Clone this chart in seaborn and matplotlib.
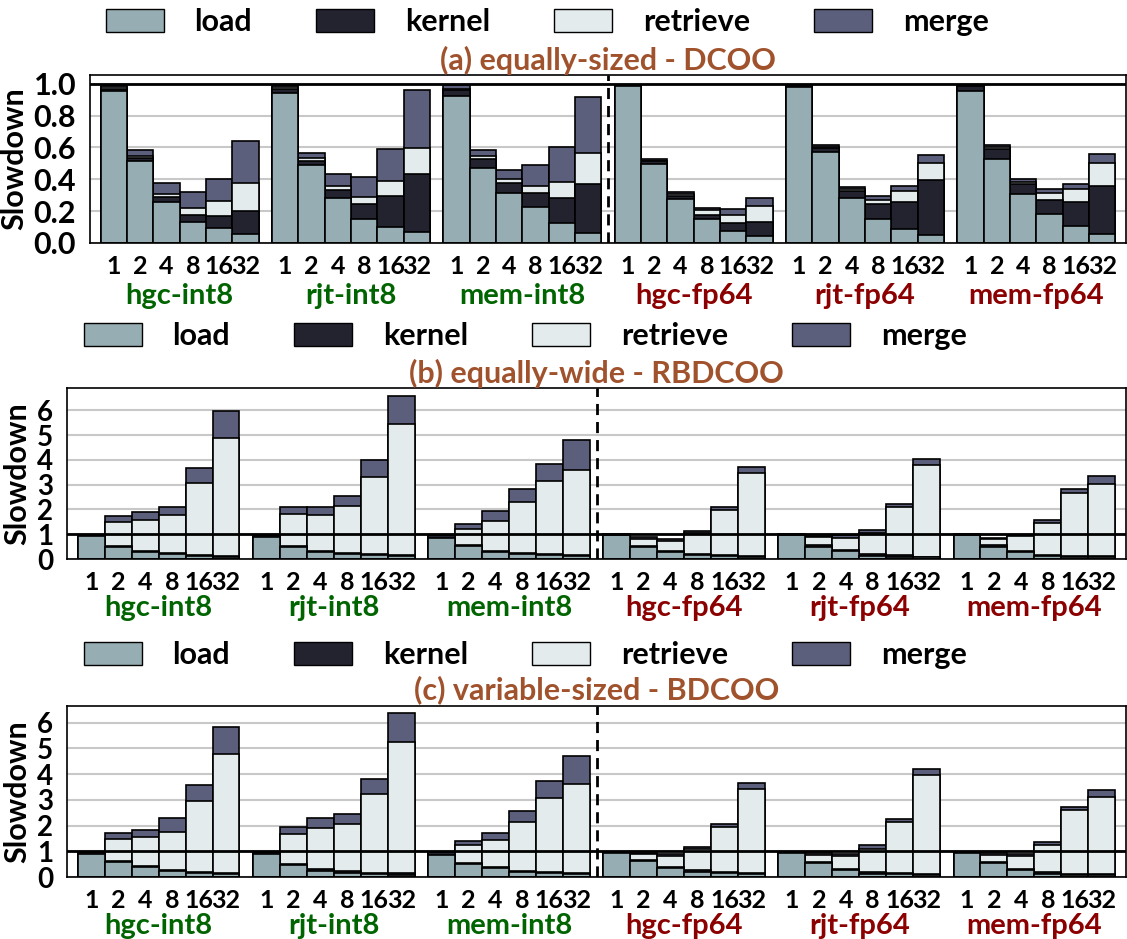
import matplotlib

matplotlib.use("Agg")
import matplotlib.pyplot as plt
import numpy as np
import seaborn as sns
from matplotlib.patches import Patch

# Data: one value per bar for each stage
GROUPS = ["hgc-int8", "rjt-int8", "mem-int8", "hgc-fp64", "rjt-fp64", "mem-fp64"]
GROUP_COLORS = ["#006400"] * 3 + ["#8b0000"] * 3
THREADS = ["1", "2", "4", "8", "16", "32"]
STAGES = ["load", "kernel", "retrieve", "merge"]
STAGE_COLORS = ["#95adb3", "#232330", "#e3ebec", "#5c5f7b"]

# (a) equally-sized - DCOO
a_load = [
    [.955, .514, .258, .134, .092, .057], [.943, .488, .281, .151, .099, .067],
    [.922, .472, .312, .224, .124, .065], [.985, .495, .275, .149, .073, .044],
    [.979, .574, .283, .149, .086, .050], [.956, .528, .308, .182, .105, .057],
]
a_kernel = [
    [.015, .018, .033, .044, .080, .146], [.025, .030, .052, .094, .194, .365],
    [.036, .056, .063, .088, .161, .306], [.005, .017, .021, .029, .055, .090],
    [.012, .021, .044, .094, .174, .344], [.030, .065, .061, .086, .155, .301],
]
a_retrieve = [
    [.008, .015, .019, .042, .092, .172], [.011, .014, .025, .042, .097, .163],
    [.011, .017, .025, .049, .099, .193], [.000, .006, .012, .030, .050, .099],
    [.000, .009, .011, .030, .065, .107], [.002, .011, .017, .044, .078, .145],
]
a_merge = [
    [.012, .038, .067, .101, .139, .264], [.011, .034, .076, .130, .201, .367],
    [.021, .036, .059, .130, .216, .352], [.003, .008, .013, .014, .036, .050],
    [.003, .010, .016, .020, .033, .050], [.002, .012, .017, .028, .033, .059],
]

# (b) equally-wide - RBDCOO
b_load = [
    [.91, .48, .28, .19, .12, .08], [.87, .47, .27, .20, .15, .11],
    [.865, .51, .28, .19, .16, .11], [.97, .48, .28, .15, .11, .07],
    [.97, .50, .32, .13, .09, .07], [.97, .50, .27, .12, .09, .07],
]
b_kernel = [
    [.06, .06, .04, .04, .05, .05], [.09, .05, .04, .04, .04, .04],
    [.085, .07, .06, .05, .04, .04], [.01, .06, .04, .05, .04, .04],
    [.01, .05, .06, .06, .06, .02], [.01, .05, .05, .05, .04, .04],
]
b_retrieve = [
    [.0, .94, 1.25, 1.54, 2.90, 4.74], [.0, 1.29, 1.48, 1.89, 3.11, 5.30],
    [.0, .65, 1.21, 2.08, 2.95, 3.43], [.0, .26, .42, .85, 1.82, 3.38],
    [.0, .32, .48, .87, 1.93, 3.70], [.0, .27, .59, 1.28, 2.53, 2.92],
]
b_merge = [
    [.01, .25, .31, .34, .59, 1.12], [.02, .28, .32, .43, .69, 1.13],
    [.02, .20, .40, .49, .69, 1.23], [.01, .09, .08, .10, .14, .21],
    [.01, .06, .09, .11, .12, .24], [.01, .04, .07, .12, .16, .30],
]

# (c) variable-sized - BDCOO
c_load = [
    [.89, .57, .38, .22, .14, .12], [.90, .46, .25, .17, .12, .09],
    [.87, .51, .34, .20, .14, .10], [.94, .63, .35, .21, .14, .10],
    [.95, .53, .26, .13, .10, .09], [.94, .56, .27, .13, .09, .08],
]
c_kernel = [
    [.075, .06, .05, .05, .06, .05], [.065, .05, .05, .05, .04, .05],
    [.095, .04, .05, .05, .04, .04], [.02, .03, .04, .05, .04, .04],
    [.01, .04, .04, .05, .04, .03], [.02, .04, .04, .05, .04, .02],
]
c_retrieve = [
    [.0, .84, 1.11, 1.48, 2.75, 4.61], [.0, 1.15, 1.59, 1.83, 3.05, 5.10],
    [.0, .69, 1.04, 1.88, 2.88, 3.47], [.0, .24, .43, .81, 1.76, 3.30],
    [.0, .30, .51, .92, 1.99, 3.83], [.0, .27, .52, 1.07, 2.46, 3.00],
]
c_merge = [
    [.01, .24, .30, .53, .62, 1.07], [.01, .27, .39, .40, .60, 1.12],
    [.01, .17, .30, .45, .68, 1.08], [.01, .05, .09, .10, .12, .21],
    [.01, .06, .10, .13, .14, .24], [.01, .07, .08, .13, .15, .29],
]

PANELS = [
    ("(a) equally-sized - DCOO", [a_load, a_kernel, a_retrieve, a_merge]),
    ("(b) equally-wide - RBDCOO", [b_load, b_kernel, b_retrieve, b_merge]),
    ("(c) variable-sized - BDCOO", [c_load, c_kernel, c_retrieve, c_merge]),
]

sns.set_theme(style="white")
plt.rcParams.update(
    {
        "font.family": ["Lato", "DejaVu Sans"],
        "font.weight": "bold",
        "text.color": "black",
        "axes.labelcolor": "black",
        "xtick.color": "black",
        "ytick.color": "black",
    }
)

W, H = 1127, 939
GAP = 0.5
XPOS = np.array([g * (len(THREADS) + GAP) + i for g in range(len(GROUPS)) for i in range(len(THREADS))])

# layout in pixels: (left, top, bottom, legend_x, legend_y, title_y, ymax, yticks, fmt, ytick_size, label_offset)
LAYOUT = [
    (90, 75, 243, 106, 22, 60, 1.055, np.arange(0, 1.01, 0.2), "{:.1f}", 22, -38),
    (67, 388, 559, 84, 336, 373, 6.9, np.arange(0, 7), "{:.0f}", 20, -35),
    (67, 706, 877, 84, 655, 690, 6.65, np.arange(0, 7), "{:.0f}", 20, -35),
]


def draw_panel(fig, title, stages, layout):
    left, top, bottom, leg_x, leg_y, title_y, ymax, yticks, fmt, ysize, lab_off = layout
    right = 1126
    ax = fig.add_axes([left / W, 1 - bottom / H, (right - left) / W, (bottom - top) / H])

    heights = [np.array(s).ravel() for s in stages]
    cum = np.cumsum(heights, axis=0)
    # draw totals first so each lower stage covers the part below its top
    for k in reversed(range(len(STAGES))):
        sns.barplot(
            x=XPOS, y=cum[k], native_scale=True, width=1, color=STAGE_COLORS[k],
            saturation=1, edgecolor="black", linewidth=1.2, errorbar=None, ax=ax, zorder=2,
        )

    ax.axhline(1, color="black", lw=2, zorder=4)
    mid = (2 * (len(THREADS) + GAP) + len(THREADS) - 1 + 3 * (len(THREADS) + GAP)) / 2
    ax.axvline(mid, color="black", lw=2, ls=(0, (4, 2.5)), zorder=4)

    ax.set_xlim(-0.9, XPOS[-1] + 0.9)
    ax.set_ylim(0, ymax)
    ax.set_yticks(yticks)
    ax.set_yticklabels([fmt.format(v) for v in yticks], fontsize=ysize, fontweight="bold")
    ax.set_xticks(XPOS)
    ax.set_xticklabels(THREADS * len(GROUPS), fontsize=18, fontweight="bold")
    ax.tick_params(axis="y", length=0, pad=10)
    ax.tick_params(axis="x", length=0, pad=9)
    ax.yaxis.grid(True, color="#c8c8c8", lw=1.5, zorder=0)
    ax.set_axisbelow(True)
    for sp in ax.spines.values():
        sp.set_color("black")
        sp.set_linewidth(1.2)
    ax.set_xlabel("")
    ax.set_ylabel("Slowdown", fontsize=22, fontweight="bold", labelpad=4)

    for g, (name, col) in enumerate(zip(GROUPS, GROUP_COLORS)):
        ax.annotate(
            name, xy=(g * (len(THREADS) + GAP) + 2.5, 0), xycoords=ax.get_xaxis_transform(),
            xytext=(0, lab_off), textcoords="offset points", ha="center", va="center",
            fontsize=21, fontweight="bold", color=col,
        )

    fig.text((left + right) / 2 / W, 1 - title_y / H, title, ha="center", va="center",
             fontsize=22, fontweight="bold", color="#a0522d")

    handles = [Patch(facecolor=c, edgecolor="black", lw=1) for c in STAGE_COLORS]
    fig.legend(
        handles, STAGES, loc="center left", bbox_to_anchor=(leg_x / W, 1 - leg_y / H),
        ncol=4, frameon=False, prop={"size": 22, "weight": "bold"}, handlelength=1.9,
        handleheight=0.75, handletextpad=1.0, columnspacing=2.1, borderpad=0, borderaxespad=0,
    )
    return ax


fig = plt.figure(figsize=(W / 100, H / 100), dpi=100)
for (title, stages), layout in zip(PANELS, LAYOUT):
    draw_panel(fig, title, stages, layout)

fig.savefig("out.png", dpi=100)
